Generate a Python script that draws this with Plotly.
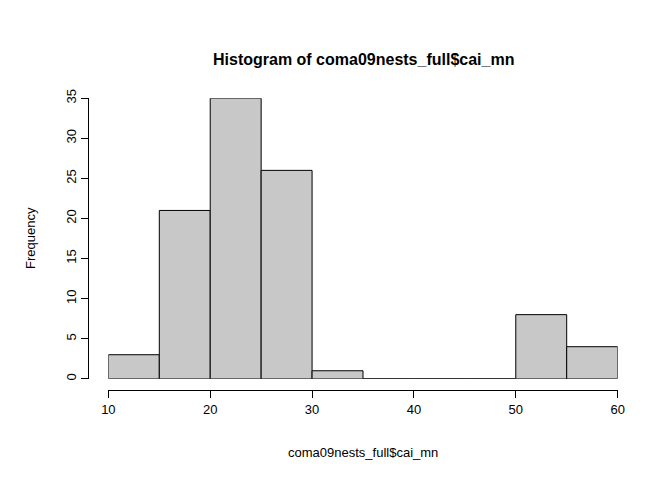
import plotly.graph_objects as go

bin_left = [10, 15, 20, 25, 30, 35, 40, 45, 50, 55]
counts = [3, 21, 35, 26, 1, 0, 0, 0, 8, 4]
bin_width = 5
x_ticks = [10, 20, 30, 40, 50, 60]
y_ticks = [0, 5, 10, 15, 20, 25, 30, 35]

# R-style plot region: data range extended by 4% each side, axes detached
x_lo, x_hi = 10, 60
y_lo, y_hi = 0, 35
xpad = (x_hi - x_lo) * 0.04
ypad = (y_hi - y_lo) * 0.04
xr = [x_lo - xpad, x_hi + xpad]
yr = [y_lo - ypad, y_hi + ypad]
xdom = [(x_lo - xr[0]) / (xr[1] - xr[0]), (x_hi - xr[0]) / (xr[1] - xr[0])]
ydom = [(y_lo - yr[0]) / (yr[1] - yr[0]), (y_hi - yr[0]) / (yr[1] - yr[0])]

fig = go.Figure()
fig.add_trace(go.Bar(
    x=[b + bin_width / 2 for b in bin_left], y=counts, width=bin_width,
    marker=dict(color="#c8c8c8", line=dict(color="black", width=1)),
    cliponaxis=False, hoverinfo="x+y"))

font = dict(family="Liberation Sans, Arial", size=13, color="black")
fig.update_layout(
    width=672, height=480, showlegend=False,
    margin=dict(l=80, r=42, t=79, b=98),
    plot_bgcolor="white", paper_bgcolor="white", font=font,
    xaxis=dict(range=[x_lo, x_hi], domain=xdom, anchor="free", position=0,
               showline=True, linecolor="black", linewidth=1, ticks="outside",
               ticklen=7, tickcolor="black", tickvals=x_ticks, showgrid=False,
               zeroline=False, tickfont=font),
    yaxis=dict(range=[y_lo, y_hi], domain=ydom, anchor="free", position=0,
               showline=True, linecolor="black", linewidth=1, ticks="outside",
               ticklen=7, tickcolor="black", tickvals=y_ticks, tickangle=-90,
               showgrid=False, zeroline=False, tickfont=font),
    annotations=[
        dict(text="<b>Histogram of coma09nests_full$cai_mn</b>", xref="paper", yref="paper",
             x=0.5, y=1, yshift=38, showarrow=False, font=dict(size=16, family=font["family"])),
        dict(text="coma09nests_full$cai_mn", xref="paper", yref="paper",
             x=0.5, y=0, yshift=-72, showarrow=False, font=font),
        dict(text="Frequency", xref="paper", yref="paper", x=0, xshift=-67, y=0.5,
             textangle=-90, showarrow=False, font=font),
    ],
)
fig.write_html("out.html")
